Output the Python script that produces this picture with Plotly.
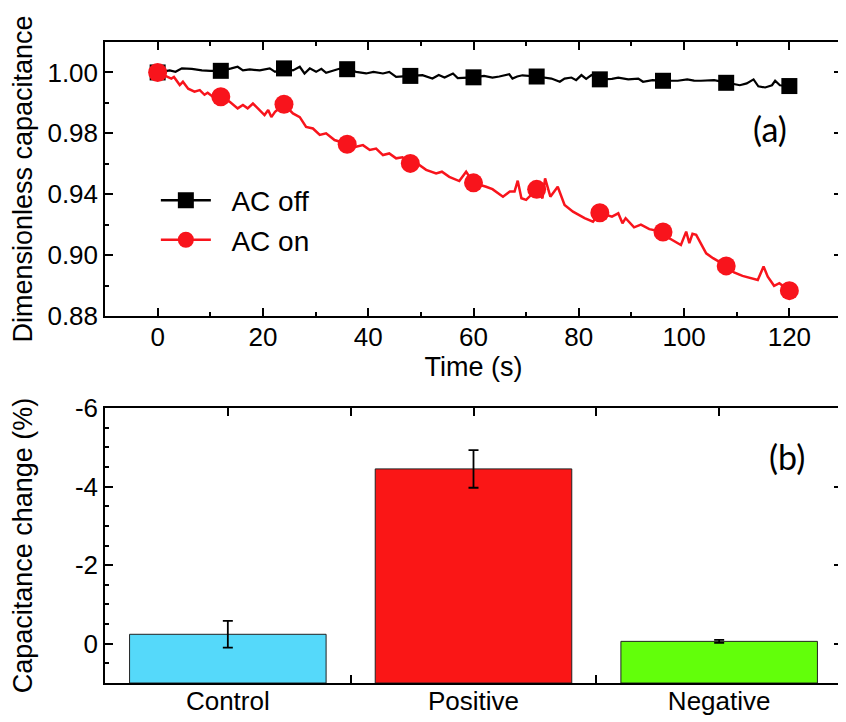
import plotly.graph_objects as go

# (a) dimensionless capacitance vs time
t_off = [0, 2.3, 3.4, 4.6, 6.5, 8.4, 10.0, 12, 14.0, 15.2, 16.2, 17.5, 19.4, 21.3, 22.3, 24,
         25.7, 27.0, 27.9, 28.9, 30.1, 31.1, 32.0, 33.3, 34.5, 36, 37.7, 39.6, 41.0, 42.8, 44.0,
         45.3, 48, 50.3, 52.2, 53.4, 54.5, 56.1, 57.0, 60, 62.0, 63.6, 64.9, 66.8, 67.4, 68.3,
         69.3, 72, 74.8, 76.4, 77.3, 78.6, 79.5, 80.5, 81.4, 82.4, 84, 86.3, 87.5, 89.4, 91.3,
         92.2, 94.0, 96, 98.8, 100.6, 101.9, 103.2, 105.7, 108, 110.6, 111.9, 113.2, 114.1,
         115.4, 116.7, 117.3, 118.2, 120]
c_off = [1.000, 1.001, 1.0003, 1.002, 1.0018, 1.001, 1.0008, 1.0008, 1.002, 1.0028, 1.001,
         1.0015, 1.001, 1.002, 1.0003, 1.002, 1.001, 1.0028, 0.9995, 1.002, 1.0003, 1.0018,
         0.9998, 1.001, 1.0018, 1.0016, 1.0003, 0.9995, 1.0003, 0.9995, 1.0003, 0.9978, 0.9983,
         0.9987, 0.997, 0.9987, 0.9975, 0.9995, 0.9972, 0.9976, 0.9983, 0.9975, 0.998, 0.9991,
         0.997, 0.998, 0.9986, 0.998, 0.997, 0.9954, 0.997, 0.9975, 0.9962, 0.9987, 0.9968,
         0.9987, 0.9966, 0.9968, 0.9974, 0.9966, 0.997, 0.9954, 0.9962, 0.9959, 0.9959, 0.9966,
         0.996, 0.9959, 0.9962, 0.9949, 0.9937, 0.9946, 0.9966, 0.9932, 0.9926, 0.9937, 0.9959,
         0.9937, 0.9933]

t_on = [0, 2.6, 3.1, 4.2, 4.8, 5.8, 7.0, 8.0, 8.9, 9.5, 10.5, 12, 13.7, 15.2, 16.2, 17.1, 18.1,
        19.4, 20.3, 21.0, 21.6, 22.3, 24, 25.7, 27.0, 28.2, 29.5, 30.8, 32.0, 33.6, 36, 37.7,
        39.0, 40.3, 41.5, 42.8, 44.0, 45.3, 46.5, 48, 49.7, 51.0, 52.9, 54.0, 55.4, 57.3, 58.6,
        60, 62.4, 63.6, 65.6, 66.9, 67.8, 68.4, 69.1, 70.0, 72, 73.1, 73.6, 74.6, 76.0, 77.3,
        78.9, 81.1, 82.7, 84, 86.3, 87.5, 88.3, 88.9, 90.5, 91.8, 93.4, 96, 97.2, 99.4, 100.4,
        101.0, 101.6, 102.3, 104.2, 105.5, 108, 109.5, 111.1, 113.0, 114.0, 115.1, 115.9, 117.1,
        118.1, 120]
c_on = [1.000, 0.997, 0.9978, 0.9938, 0.9954, 0.992, 0.9905, 0.9913, 0.989, 0.990, 0.988, 0.988,
        0.9855, 0.9823, 0.984, 0.9823, 0.9847, 0.9815, 0.979, 0.9815, 0.978, 0.9806, 0.9843,
        0.9798, 0.978, 0.9732, 0.9724, 0.9692, 0.970, 0.9667, 0.9646, 0.9634, 0.9642, 0.9618,
        0.9625, 0.9593, 0.9601, 0.9577, 0.9582, 0.9552, 0.9544, 0.952, 0.9503, 0.9511, 0.9486,
        0.9465, 0.9511, 0.9456, 0.9437, 0.9425, 0.9388, 0.9413, 0.9413, 0.9467, 0.938, 0.9372,
        0.9424, 0.938, 0.9478, 0.9388, 0.9437, 0.9347, 0.9314, 0.9282, 0.9265, 0.9309, 0.929,
        0.9306, 0.9257, 0.9282, 0.9237, 0.925, 0.9228, 0.9214, 0.9183, 0.915, 0.9216, 0.9159,
        0.9205, 0.920, 0.9109, 0.9085, 0.9047, 0.9015, 0.8998, 0.8987, 0.8978, 0.9044, 0.8994,
        0.8949, 0.8962, 0.8925]

mark_every = 12  # symbols every 12 s

y_tickvals = [0.88, 0.91, 0.94, 0.97, 1.00]
y_ticktext = ["0.88", "0.90", "0.94", "0.98", "1.00"]

# (b) capacitance change
groups = ["Control", "Positive", "Negative"]
change = [-0.24, -4.45, -0.06]
change_err = [0.34, 0.48, 0.04]
bar_colors = ["#55D9FA", "#FA1616", "#62FF0A"]
y2_tickvals = [-6, -4, -2, 0]
y2_ticktext = ["-6", "-4", "-2", "0"]

FONT = "Liberation Sans, Arial, sans-serif"
RED = "#F8141C"
GAP = "\u00a0\u00a0"  # wider gap between legend symbol and text


def marks(t, c):
    pts = [(a, b) for a, b in zip(t, c) if a % mark_every == 0]
    return [p[0] for p in pts], [p[1] for p in pts]


fig = go.Figure()

# AC off
fig.add_trace(go.Scatter(x=t_off, y=c_off, mode="lines", line=dict(color="black", width=2.2),
                         showlegend=False, hoverinfo="skip"))
mx, my = marks(t_off, c_off)
fig.add_trace(go.Scatter(x=mx, y=my, mode="markers", showlegend=False,
                         marker=dict(symbol="square", size=16, color="black")))
fig.add_trace(go.Scatter(x=[None], y=[None], mode="lines+markers", name=GAP + "AC off",
                         line=dict(color="black", width=2.5),
                         marker=dict(symbol="square", size=16, color="black")))

# AC on
fig.add_trace(go.Scatter(x=t_on, y=c_on, mode="lines", line=dict(color=RED, width=2.5),
                         showlegend=False, hoverinfo="skip"))
mx, my = marks(t_on, c_on)
fig.add_trace(go.Scatter(x=mx, y=my, mode="markers", showlegend=False,
                         marker=dict(symbol="circle", size=19, color=RED)))
fig.add_trace(go.Scatter(x=[None], y=[None], mode="lines+markers", name=GAP + "AC on",
                         line=dict(color=RED, width=2.5),
                         marker=dict(symbol="circle", size=16, color=RED)))

# bars, drawn up from the bottom of the (reversed) axis
y_bottom = 1
fig.add_trace(go.Bar(x=[0, 1, 2], y=[c - y_bottom for c in change], base=y_bottom,
                     width=0.8, marker=dict(color=bar_colors, line=dict(color="#222", width=1)),
                     xaxis="x2", yaxis="y2", showlegend=False))
fig.add_trace(go.Scatter(x=[0, 1, 2], y=change, mode="markers", marker=dict(size=0.1, color="black"),
                         error_y=dict(type="data", array=change_err, color="black",
                                      thickness=1.8, width=5),
                         xaxis="x2", yaxis="y2", showlegend=False))

axis_common = dict(showline=True, linecolor="black", linewidth=1.5, mirror="ticks",
                   ticks="inside", tickcolor="black", tickwidth=1.5, ticklen=8,
                   showgrid=False, zeroline=False, automargin=False,
                   tickfont=dict(family=FONT, size=26, color="black"))

# the page puts the figure 8 px in from the top-left corner
fig.update_layout(
    width=838, height=714,
    margin=dict(l=97, r=4, t=34, b=39),
    plot_bgcolor="white", paper_bgcolor="white",
    font=dict(family=FONT, size=26, color="black"),
    xaxis=dict(domain=[0, 1], anchor="y", range=[-10, 130], dtick=20, tick0=0,
               minor=dict(dtick=10, ticklen=4, tickcolor="black", ticks="inside"),
               ticklabelstandoff=-3,
               title=dict(text="Time (s)", font=dict(family=FONT, size=27), standoff=0),
               **axis_common),
    yaxis=dict(domain=[0.5725, 1], anchor="x", range=[0.88, 1.015],
               tickmode="array", tickvals=y_tickvals, ticktext=y_ticktext,
               minor=dict(tickmode="linear", tick0=0.88, dtick=0.015, ticklen=4,
                          tickcolor="black", ticks="inside"),
               title=dict(text="Dimensionless capacitance", font=dict(family=FONT, size=27),
                          standoff=30),
               **axis_common),
    xaxis2=dict(domain=[0, 1], anchor="y2", range=[-0.5, 2.5],
                tickmode="array", tickvals=[0, 1, 2], ticktext=groups,
                minor=dict(tickmode="linear", tick0=0, dtick=0.5, ticklen=8,
                           tickcolor="black", ticks="inside"),
                ticklabelstandoff=-6,
                layer="below traces", **axis_common),
    yaxis2=dict(domain=[0, 0.429], anchor="x2", range=[y_bottom, -6],
                tickmode="array", tickvals=y2_tickvals, ticktext=y2_ticktext,
                minor=dict(tickmode="linear", tick0=0, dtick=0.5, ticklen=4,
                           tickcolor="black", ticks="inside"),
                title=dict(text="Capacitance change (%)", font=dict(family=FONT, size=27),
                           standoff=41),
                **axis_common),
    legend=dict(x=0.069, y=0.7915, xanchor="left", yanchor="top", bgcolor="rgba(0,0,0,0)",
                font=dict(family=FONT, size=28), itemwidth=50, tracegroupgap=0),
    annotations=[
        dict(text="(a)", xref="x domain", yref="y domain", x=0.902, y=0.686,
             xanchor="center", yanchor="middle", showarrow=False,
             font=dict(family="Lato, Open Sans, sans-serif", size=34)),
        dict(text="(b)", xref="x2 domain", yref="y2 domain", x=0.925, y=0.822,
             xanchor="center", yanchor="middle", showarrow=False,
             font=dict(family="Lato, Open Sans, sans-serif", size=34)),
    ],
)

fig.write_html("out.html")
